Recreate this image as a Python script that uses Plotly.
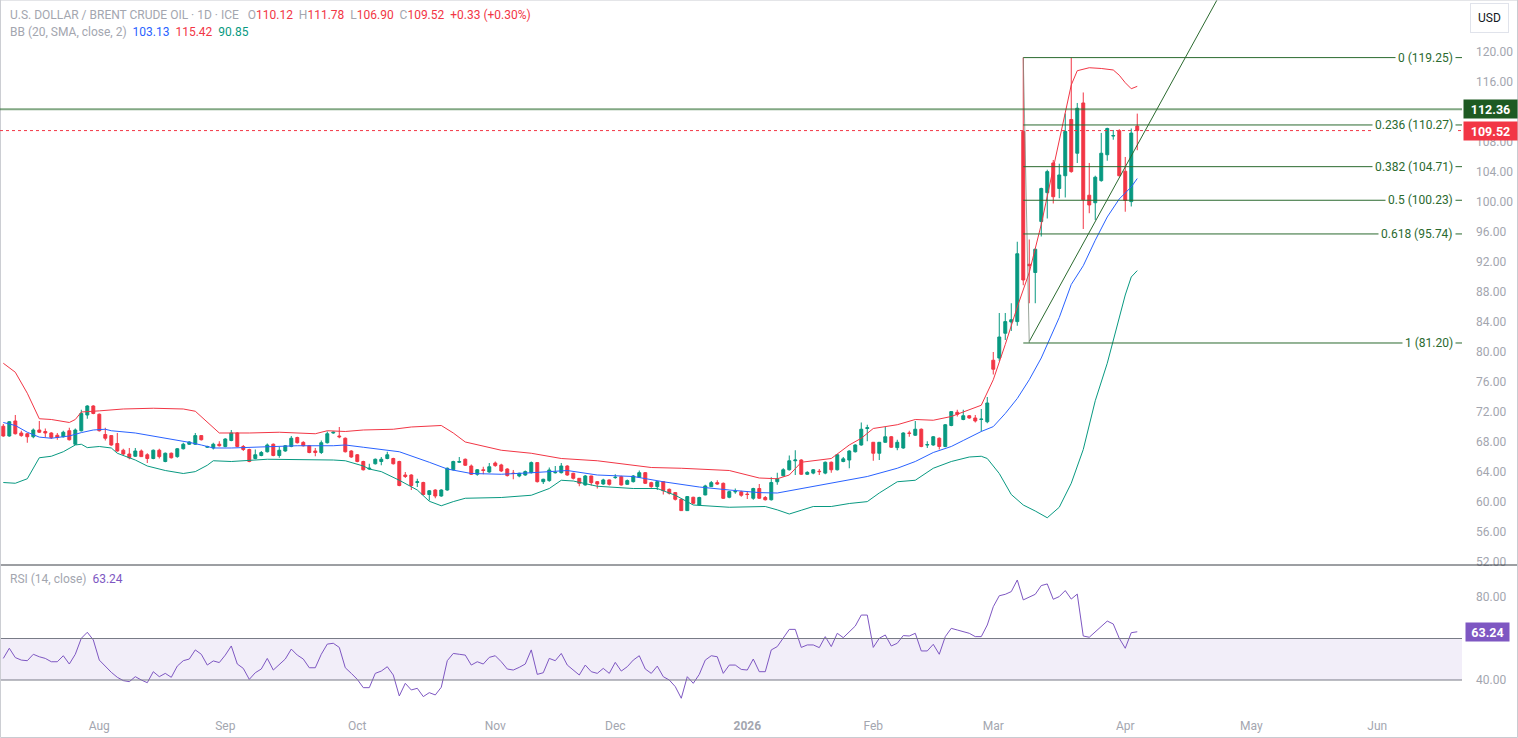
import plotly.graph_objects as go
import pandas as pd

# ---------------- data ----------------
holidays = ["2025-12-25", "2026-01-01"]
dates = [d.strftime("%Y-%m-%d") for d in pd.bdate_range("2025-07-10", "2026-04-03")
         if d.strftime("%Y-%m-%d") not in holidays]

opens = [70.1, 68.8, 70.8, 69.2, 69.1, 68.7, 69.6, 69.4, 69.2, 68.9,
         68.7, 69.5, 67.7, 69.5, 71.6, 72.8, 71.7, 69.0, 68.85, 67.8,
         66.9, 66.4, 66.1, 66.8, 66.3, 65.8, 66.9, 65.4, 66.5, 66.05,
         67.1, 67.7, 67.7, 68.85, 67.3, 67.2, 67.7, 67.4, 68.2, 69.2,
         67.4, 67.0, 65.8, 66.2, 66.7, 67.7, 66.2, 66.8, 67.4, 68.6,
         67.95, 67.5, 66.8, 66.6, 67.9, 69.2, 68.8, 68.5, 66.8, 66.3,
         65.4, 64.4, 65.1, 65.4, 65.8, 65.8, 65.4, 63.6, 63.6, 62.6,
         62.6, 61.0, 61.6, 60.8, 61.6, 64.3, 65.3, 65.7, 64.8, 63.7,
         64.3, 64.0, 65.2, 64.94, 64.4, 63.85, 63.47, 63.6, 63.91, 65.25,
         62.71, 62.85, 63.9, 63.91, 64.8, 63.83, 63.16, 62.27, 63.47, 62.71,
         62.4, 62.94, 63.25, 63.38, 62.36, 62.71, 63.29, 63.91, 62.58, 62.05,
         62.71, 61.69, 61.25, 60.36, 58.85, 60.63, 59.6, 60.94, 62.05, 62.58,
         62.49, 60.63, 61.35, 61.35, 61.05, 60.5, 61.8, 60.6, 60.3, 62.7,
         63.5, 64.3, 65.5, 65.6, 63.7, 63.85, 64.1, 63.85, 65.3, 64.3,
         65.4, 65.6, 66.7, 67.6, 69.8, 67.96, 66.5, 67.96, 68.7, 67.25,
         67.2, 69.2, 68.9, 69.7, 67.6, 67.6, 68.5, 67.4, 70.2, 71.96,
         71.0, 71.5, 71.2, 71.0, 70.7, 78.9, 79.2, 82.5, 84.0, 84.05,
         109.4, 91.7, 90.6, 97.4, 101.25, 105.2, 101.8, 103.5, 111.0, 106.5,
         113.2, 100.9, 99.9, 102.85, 106.3, 108.8, 109.5, 104.1, 100.05, 110.12]

highs = [70.4, 70.8, 71.6, 69.5, 69.2, 69.8, 70.8, 69.8, 69.3, 69.2,
         69.5, 69.9, 69.8, 72.3, 72.9, 72.9, 71.8, 69.9, 68.9, 69.2,
         67.1, 67.2, 67.2, 67.0, 66.5, 67.0, 67.1, 66.6, 66.6, 67.2,
         67.9, 68.1, 69.2, 68.9, 67.5, 67.9, 68.1, 68.5, 69.6, 69.3,
         67.6, 67.1, 67.0, 66.8, 67.8, 67.8, 67.4, 67.6, 68.8, 68.7,
         68.1, 67.6, 67.2, 68.2, 69.4, 69.4, 70.0, 68.6, 66.9, 66.4,
         65.5, 65.1, 65.8, 66.0, 66.7, 65.9, 65.5, 64.0, 63.7, 63.1,
         62.7, 61.6, 61.7, 61.7, 64.6, 65.5, 66.0, 65.8, 65.0, 64.4,
         64.7, 65.2, 65.4, 65.1, 64.5, 64.27, 63.9, 64.2, 65.4, 65.3,
         63.1, 64.6, 64.8, 65.2, 64.9, 63.9, 63.2, 63.6, 63.5, 62.8,
         63.1, 63.0, 63.7, 63.5, 63.0, 63.6, 64.2, 64.0, 62.7, 62.8,
         62.8, 61.8, 61.3, 60.4, 60.8, 60.7, 60.7, 62.3, 62.8, 62.9,
         62.6, 61.5, 61.8, 61.5, 61.4, 61.9, 62.4, 60.8, 63.3, 63.9,
         64.5, 66.2, 66.9, 65.7, 64.1, 64.4, 64.4, 65.4, 65.4, 66.4,
         66.0, 66.9, 67.7, 70.6, 70.3, 68.0, 68.0, 70.0, 68.8, 68.3,
         69.3, 69.5, 70.8, 69.8, 68.1, 68.8, 68.6, 70.4, 72.1, 72.3,
         72.3, 71.6, 71.6, 72.4, 74.0, 80.0, 85.2, 85.2, 86.5, 94.7,
         119.25, 95.0, 93.8, 101.9, 104.3, 105.6, 105.1, 111.8, 119.2, 113.2,
         114.6, 105.2, 103.5, 109.2, 109.9, 109.6, 109.7, 106.0, 109.8, 111.78]

lows = [68.7, 68.7, 69.0, 68.7, 67.9, 68.5, 69.2, 68.6, 68.4, 68.3,
        68.6, 68.2, 67.6, 69.4, 71.1, 71.7, 69.4, 68.2, 67.5, 66.7,
        66.2, 65.7, 66.0, 66.0, 65.2, 65.7, 65.8, 65.3, 65.8, 65.9,
        67.0, 67.6, 67.6, 68.2, 67.2, 67.0, 67.4, 67.3, 68.1, 67.3,
        66.8, 65.3, 65.7, 66.1, 66.6, 66.1, 65.9, 66.7, 67.3, 67.8,
        67.4, 66.5, 66.1, 66.4, 67.8, 69.1, 68.5, 66.6, 65.9, 65.3,
        64.2, 64.3, 65.0, 64.9, 65.7, 65.0, 62.1, 63.2, 61.6, 62.0,
        60.9, 60.2, 60.5, 60.7, 61.5, 64.2, 65.2, 64.8, 63.6, 63.5,
        63.7, 63.9, 64.7, 64.0, 63.4, 63.03, 63.3, 63.5, 63.8, 62.6,
        62.4, 62.7, 63.8, 63.8, 63.5, 63.0, 62.1, 62.2, 62.2, 61.8,
        62.3, 62.2, 63.1, 62.2, 62.3, 62.6, 63.2, 62.4, 61.9, 61.6,
        61.0, 61.0, 60.2, 58.8, 58.8, 59.7, 59.5, 60.9, 62.0, 62.3,
        60.4, 60.5, 61.1, 60.7, 60.4, 60.3, 60.4, 60.2, 60.2, 62.3,
        63.4, 64.2, 63.6, 63.6, 63.6, 63.7, 63.6, 63.7, 63.9, 64.2,
        65.3, 64.5, 66.6, 67.5, 68.1, 65.5, 65.6, 67.9, 67.2, 66.9,
        67.1, 68.7, 68.8, 67.3, 67.2, 67.5, 67.0, 67.3, 70.1, 71.4,
        70.9, 71.1, 70.6, 69.4, 70.5, 77.0, 78.8, 81.6, 82.8, 83.5,
        88.9, 86.5, 86.5, 95.4, 97.8, 99.8, 100.5, 100.6, 103.9, 105.2,
        96.4, 98.5, 97.6, 102.7, 105.5, 108.3, 103.4, 98.7, 99.4, 106.90]

closes = [68.8, 70.7, 69.1, 68.85, 68.7, 69.6, 69.3, 69.2, 68.6, 68.6,
          69.3, 68.3, 69.6, 71.8, 72.8, 71.8, 69.5, 68.5, 67.6, 66.8,
          66.4, 65.9, 66.8, 66.05, 65.8, 66.9, 66.05, 66.5, 65.9, 67.1,
          67.7, 68.0, 68.85, 68.3, 67.4, 67.7, 67.5, 68.4, 69.2, 67.4,
          67.0, 65.4, 66.3, 66.6, 67.6, 66.2, 66.9, 67.5, 68.5, 67.9,
          67.5, 66.6, 66.6, 67.9, 69.1, 69.3, 68.7, 66.7, 66.0, 65.4,
          64.3, 64.5, 65.7, 65.7, 66.3, 65.1, 62.2, 63.4, 62.2, 62.7,
          61.0, 61.5, 60.8, 61.6, 64.5, 65.4, 65.4, 64.9, 63.7, 64.3,
          64.2, 64.7, 64.85, 64.14, 63.52, 63.8, 63.83, 64.05, 65.25, 62.71,
          63.03, 64.27, 63.95, 64.8, 63.6, 63.16, 62.49, 63.47, 62.58, 62.4,
          62.94, 62.36, 63.3, 62.27, 62.85, 63.47, 63.91, 62.49, 62.05, 62.71,
          61.51, 61.16, 60.36, 58.85, 60.72, 59.83, 60.6, 62.14, 62.58, 62.4,
          60.49, 61.38, 61.4, 60.9, 61.0, 61.8, 60.5, 60.3, 62.6, 63.1,
          64.3, 65.5, 65.6, 63.7, 63.95, 64.3, 64.05, 65.3, 64.3, 66.3,
          65.75, 66.8, 67.6, 69.7, 69.9, 66.5, 67.96, 68.7, 67.3, 67.96,
          69.2, 69.15, 69.7, 67.4, 67.65, 68.7, 67.4, 70.3, 72.05, 71.7,
          71.5, 71.2, 70.8, 71.05, 73.2, 77.7, 82.0, 84.05, 84.3, 93.1,
          89.6, 91.5, 93.7, 101.8, 104.05, 100.7, 103.6, 109.4, 104.05, 112.5,
          100.3, 99.6, 103.3, 106.5, 109.8, 108.85, 103.5, 100.2, 109.19, 109.52]

# Bollinger Bands (20, SMA, 2) read at selected bars (1-based bar numbers)
bb_upper_bar = [1, 3, 5, 7, 9, 12, 13, 14, 17, 21, 26, 31, 33, 35, 37, 42, 47, 53, 55, 58,
                61, 66, 69, 74, 76, 78, 81, 84, 89, 94, 100, 106, 109, 114, 122, 127, 130,
                132, 134, 139, 142, 144, 146, 150, 153, 156, 159, 164, 166, 168, 170, 172,
                174, 176, 178, 179, 180, 182, 184, 186, 187, 188, 189, 190]
bb_upper_val = [78.5, 77.3, 74.5, 71.1, 71.0, 70.6, 71.0, 72.0, 72.15, 72.4, 72.5, 72.4, 72.1,
                70.6, 69.2, 69.2, 69.3, 69.1, 69.5, 69.4, 69.6, 69.7, 70.0, 70.2, 69.2, 68.0,
                67.4, 66.9, 66.5, 65.8, 65.5, 64.9, 64.6, 64.5, 64.2, 63.2, 63.1, 63.6, 65.3,
                65.8, 67.6, 68.5, 69.8, 70.3, 71.0, 70.9, 71.4, 72.9, 76.3, 81.0, 86.0, 90.6,
                97.0, 104.5, 111.8, 115.6, 117.5, 117.9, 117.8, 117.6, 116.9, 115.9, 115.1, 115.42]

bb_mid_bar = [1, 3, 5, 7, 9, 12, 14, 16, 18, 19, 23, 26, 29, 32, 34, 36, 39, 45, 50, 56, 58,
              61, 67, 72, 75, 79, 84, 89, 95, 100, 106, 111, 117, 122, 127, 130, 134, 139,
              145, 150, 153, 156, 159, 161, 164, 166, 167, 168, 170, 172, 174, 175, 177, 179,
              181, 183, 185, 187, 188, 189, 190]
bb_mid_val = [70.6, 70.2, 69.3, 68.65, 68.5, 68.8, 69.25, 69.6, 69.7, 69.5, 69.2, 68.8, 68.4,
              67.95, 67.6, 67.2, 67.2, 67.4, 67.5, 67.5, 67.6, 67.3, 66.7, 65.3, 64.4, 63.8,
              63.7, 63.9, 64.2, 63.6, 63.4, 62.7, 62.0, 61.6, 61.25, 61.2, 61.8, 62.5, 63.4,
              64.5, 65.4, 66.6, 67.4, 68.2, 69.4, 70.05, 70.9, 71.8, 73.8, 76.3, 79.2, 81.0,
              84.6, 89.0, 91.5, 94.9, 98.0, 100.4, 101.2, 102.0, 103.13]

bb_lower_bar = [1, 3, 5, 7, 9, 11, 13, 14, 15, 17, 19, 20, 23, 25, 28, 31, 33, 35, 36, 39,
                45, 50, 56, 58, 61, 62, 64, 67, 70, 72, 74, 76, 78, 84, 89, 92, 94, 96, 100,
                106, 110, 113, 116, 122, 128, 130, 132, 134, 136, 139, 142, 145, 147, 150,
                153, 156, 159, 162, 164, 165, 167, 169, 171, 173, 175, 177, 179, 181, 183,
                185, 187, 188, 189, 190]
bb_lower_val = [62.6, 62.5, 63.1, 65.9, 66.1, 66.7, 67.6, 67.7, 67.25, 67.4, 67.2, 66.5, 65.6,
                64.8, 64.2, 63.8, 64.05, 64.9, 65.5, 65.4, 65.7, 65.7, 65.6, 65.5, 64.8, 64.4,
                64.05, 62.9, 61.6, 60.1, 59.5, 60.05, 60.5, 60.6, 60.9, 61.8, 62.9, 62.8, 62.1,
                61.8, 61.8, 60.9, 59.6, 59.3, 59.4, 58.95, 58.4, 58.9, 59.4, 59.4, 59.8, 60.05,
                61.2, 62.7, 62.9, 64.5, 65.4, 66.0, 66.1, 65.8, 63.8, 61.0, 59.6, 58.8, 57.9,
                59.3, 62.5, 67.0, 73.5, 78.5, 84.5, 87.6, 90.0, 90.85]

rsi = [50.4, 55.3, 50.8, 49.6, 49.3, 52.4, 51.2, 50.4, 48.8, 48.8,
       51.7, 47.7, 52.4, 60.1, 63.0, 59.3, 49.6, 46.4, 43.7, 41.3,
       39.7, 39.2, 41.6, 40.0, 38.7, 44.0, 41.6, 43.2, 41.3, 46.7,
       49.3, 50.1, 54.5, 52.4, 47.2, 49.2, 48.4, 52.0, 56.4, 47.7,
       45.6, 40.3, 43.5, 45.3, 50.4, 44.8, 47.5, 50.1, 54.9, 52.0,
       50.1, 45.9, 45.9, 52.4, 57.3, 57.7, 55.7, 45.9, 43.2, 40.3,
       36.3, 36.3, 43.2, 44.3, 46.4, 42.4, 32.3, 38.4, 35.2, 36.0,
       32.0, 33.9, 32.8, 36.5, 49.3, 52.8, 52.4, 52.0, 47.2, 48.8,
       47.7, 50.9, 51.7, 48.8, 45.3, 44.8, 46.1, 47.7, 54.5, 42.7,
       43.5, 50.4, 49.3, 52.8, 47.2, 44.8, 42.4, 47.2, 44.0, 43.2,
       45.6, 43.2, 48.5, 44.3, 46.4, 49.6, 51.7, 45.3, 43.2, 46.7,
       41.6, 40.0, 36.8, 31.2, 41.6, 38.4, 42.7, 49.6, 51.7, 51.2,
       43.2, 47.2, 47.2, 45.1, 44.8, 50.1, 44.0, 44.0, 54.5, 56.1,
       60.4, 64.4, 64.4, 55.7, 56.9, 56.9, 55.6, 60.9, 56.1, 62.5,
       60.4, 63.3, 66.0, 71.3, 71.3, 55.7, 60.1, 61.7, 56.4, 57.7,
       61.4, 61.2, 62.5, 54.0, 54.0, 57.2, 52.4, 60.9, 64.9, 64.1,
       63.3, 62.5, 60.9, 60.9, 66.5, 75.3, 80.6, 81.3, 82.6, 88.2,
       78.6, 79.8, 81.3, 85.5, 86.3, 78.9, 80.2, 83.1, 79.0, 81.4,
       61.2, 60.6, 63.3, 66.0, 68.4, 67.0, 60.1, 55.3, 62.8, 63.24]

fib_levels = [0, 0.236, 0.382, 0.5, 0.618, 1]
fib_prices = [119.25, 110.27, 104.71, 100.23, 95.74, 81.20]
fib_start = "2026-03-09"
fib_anchor_x = ["2026-03-09", "2026-03-10"]
fib_anchor_y = [119.25, 81.20]

trend_x = ["2026-03-10", "2026-05-04"]
trend_y = [81.4, 136.7]

resistance = 112.36
last_close = 109.52
rsi_last = 63.24

price_ticks = [v for v in range(52, 121, 4) if v != 112]   # 112.00 sits under the 112.36 tag
rsi_ticks = [40, 80]                                         # 60.00 sits under the 63.24 tag
month_ticks = ["2025-08-01", "2025-09-01", "2025-10-01", "2025-11-03", "2025-12-01",
               "2026-01-02", "2026-02-02", "2026-03-02", "2026-04-01", "2026-05-01", "2026-06-01"]
month_labels = ["Aug", "Sep", "Oct", "Nov", "Dec", "<b>2026</b>", "Feb", "Mar", "Apr", "May", "Jun"]

# ---------------- figure ----------------
W, H = 1518, 738
PW, PH = 1462, 710  # plot area
UP, DOWN = "#089981", "#f23645"
GRAY = "#a3a6af"
FIB = "#2b6a2f"
FONT = "Roboto, Open Sans, sans-serif"


def px(x, y):
    return x / PW, (PH - y) / PH


def pick(bars, idx):
    return [bars[i - 1] for i in idx]


fig = go.Figure()

fig.add_trace(go.Candlestick(
    x=dates, open=opens, high=highs, low=lows, close=closes,
    increasing=dict(line=dict(color=UP, width=1), fillcolor=UP),
    decreasing=dict(line=dict(color=DOWN, width=1), fillcolor=DOWN),
    whiskerwidth=0, xaxis="x", yaxis="y", showlegend=False, hoverinfo="skip"))

fig.add_trace(go.Scatter(x=pick(dates, bb_upper_bar), y=bb_upper_val, mode="lines",
                         line=dict(color=DOWN, width=1), xaxis="x", yaxis="y", showlegend=False))
fig.add_trace(go.Scatter(x=pick(dates, bb_mid_bar), y=bb_mid_val, mode="lines",
                         line=dict(color="#2962ff", width=1), xaxis="x", yaxis="y", showlegend=False))
fig.add_trace(go.Scatter(x=pick(dates, bb_lower_bar), y=bb_lower_val, mode="lines",
                         line=dict(color=UP, width=1), xaxis="x", yaxis="y", showlegend=False))

fig.add_trace(go.Scatter(x=trend_x, y=trend_y, mode="lines", line=dict(color=FIB, width=1),
                         xaxis="x", yaxis="y", showlegend=False))
fig.add_trace(go.Scatter(x=fib_anchor_x, y=fib_anchor_y, mode="lines",
                         line=dict(color="rgba(120,135,120,0.75)", width=1),
                         xaxis="x", yaxis="y", showlegend=False))

fig.add_trace(go.Scatter(x=dates, y=rsi, mode="lines", line=dict(color="#7e57c2", width=1),
                         xaxis="x2", yaxis="y2", showlegend=False))

x_range = ["2025-07-09 10:48", "2026-06-19 03:00"]
rb = [dict(bounds=["sat", "mon"]), dict(values=holidays + ["2026-04-06"])]

main_bottom = (PH - 565) / PH
rsi_top = (PH - 566) / PH

fig.update_layout(
    width=W, height=H, margin=dict(l=0, r=W - PW, t=0, b=H - PH),
    paper_bgcolor="white", plot_bgcolor="white",
    font=dict(family=FONT, size=12, color=GRAY),
    showlegend=False, hovermode=False,
    xaxis=dict(domain=[0, 1], anchor="y", range=x_range, rangebreaks=rb,
               showticklabels=False, showgrid=False, zeroline=False, showline=False,
               rangeslider=dict(visible=False), ticks=""),
    xaxis2=dict(domain=[0, 1], anchor="y2", matches="x", range=x_range, rangebreaks=rb,
                tickmode="array", tickvals=month_ticks, ticktext=month_labels,
                showgrid=False, zeroline=False, showline=False,
                ticks="outside", ticklen=5, tickcolor="rgba(0,0,0,0)",
                tickfont=dict(family=FONT, size=12, color=GRAY)),
    yaxis=dict(domain=[main_bottom, 1], anchor="x", side="right", range=[51.6, 126.93],
               tickmode="array", tickvals=price_ticks,
               ticktext=[f"{v:.2f}" for v in price_ticks],
               showgrid=False, zeroline=False, showline=False, ticks="",
               ticklabelstandoff=13, tickfont=dict(family=FONT, size=12, color=GRAY)),
    yaxis2=dict(domain=[0, rsi_top], anchor="x2", side="right", range=[25.54, 94.94],
                tickmode="array", tickvals=rsi_ticks, ticktext=[f"{v:.2f}" for v in rsi_ticks],
                showgrid=False, zeroline=False, showline=False, ticks="",
                ticklabelstandoff=13, tickfont=dict(family=FONT, size=12, color=GRAY)),
)

shapes = []
# RSI band
shapes.append(dict(type="rect", xref="paper", yref="y2", x0=0, x1=1, y0=40, y1=60,
                   fillcolor="rgba(126,87,194,0.1)", line=dict(width=0), layer="below"))
for lvl in (40, 60):
    shapes.append(dict(type="line", xref="paper", yref="y2", x0=0, x1=1, y0=lvl, y1=lvl,
                       line=dict(color="#787b86", width=1)))
# pane separator
shapes.append(dict(type="line", xref="paper", yref="paper", x0=0, x1=W / PW,
                   y0=main_bottom, y1=main_bottom, line=dict(color="#3b3e47", width=1)))
# frame
shapes.append(dict(type="rect", xref="paper", yref="paper", x0=0.0003, x1=(W - 0.5) / PW,
                   y0=-(H - PH - 0.5) / PH, y1=1, line=dict(color="#c9cbd1", width=1)))
# resistance line and last price line
shapes.append(dict(type="line", xref="paper", yref="y", x0=0, x1=1, y0=resistance, y1=resistance,
                   line=dict(color="rgba(46,110,50,0.6)", width=2)))
shapes.append(dict(type="line", xref="paper", yref="y", x0=0, x1=1, y0=last_close, y1=last_close,
                   line=dict(color=DOWN, width=1, dash="dot")))
# fib levels
for p in fib_prices:
    shapes.append(dict(type="line", xref="x", yref="y", x0=fib_start, x1=x_range[1], y0=p, y1=p,
                       line=dict(color=FIB, width=1)))
fig.update_layout(shapes=shapes)

ann = []
for lv, p in zip(fib_levels, fib_prices):
    ann.append(dict(xref="paper", yref="y", x=1456 / PW, y=p, xanchor="right", yanchor="middle",
                    text=f"{lv} ({p:.2f})", showarrow=False, bgcolor="white", borderpad=2,
                    font=dict(family=FONT, size=12, color=FIB)))


def tag(yref, y, text, color, w, x0=1463):
    return dict(xref="paper", yref=yref, x=x0 / PW, y=y, xanchor="left", yanchor="middle",
                text=text, showarrow=False, bgcolor=color, width=w, height=18, borderpad=0,
                align="center", font=dict(family=FONT, size=12.5, color="white"))


ann.append(tag("y", resistance, "<b>112.36</b>", "#1e5a22", 53))
ann.append(tag("y", last_close, "<b>109.52</b>", DOWN, 53))
ann.append(tag("y2", rsi_last, "<b>63.24</b>", "#7e57c2", 43, 1465))

R = "#f23645"
line1 = (f"U.S. DOLLAR / BRENT CRUDE OIL · 1D · ICE&nbsp;&nbsp;&nbsp;O<span style='color:{R}'>110.12</span>"
         f"&nbsp;&nbsp;H<span style='color:{R}'>111.78</span>&nbsp;&nbsp;L<span style='color:{R}'>106.90</span>"
         f"&nbsp;&nbsp;C<span style='color:{R}'>109.52</span>&nbsp;&nbsp;<span style='color:{R}'>+0.33 (+0.30%)</span>")
line2 = ("BB (20, SMA, close, 2)&nbsp;&nbsp;<span style='color:#2962ff'>103.13</span>&nbsp;&nbsp;"
         f"<span style='color:{R}'>115.42</span>&nbsp;&nbsp;<span style='color:{UP}'>90.85</span>")
line3 = "RSI (14, close)&nbsp;&nbsp;<span style='color:#7e57c2'>63.24</span>"
for txt, yy in ((line1, 15), (line2, 32), (line3, 579)):
    xp, yp = px(8, yy)
    ann.append(dict(xref="paper", yref="paper", x=xp, y=yp, xanchor="left", yanchor="middle",
                    text=txt, showarrow=False, font=dict(family=FONT, size=12, color=GRAY)))

xp, yp = px(1490, 18)
ann.append(dict(xref="paper", yref="paper", x=xp, y=yp, xanchor="center", yanchor="middle",
                text="USD", showarrow=False, bgcolor="white", bordercolor="#e0e3eb", borderwidth=1,
                borderpad=7, font=dict(family=FONT, size=12, color="#131722")))
fig.update_layout(annotations=ann)

fig.write_html("out.html")
